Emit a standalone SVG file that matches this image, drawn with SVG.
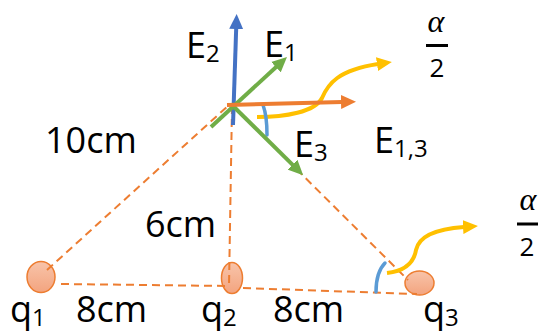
<svg xmlns="http://www.w3.org/2000/svg" width="538" height="332" viewBox="0 0 538 332">
<style>
.lbl{font-family:"Open Sans","Liberation Sans",sans-serif;font-size:36px;fill:#000}
.sub{font-size:24px}
.dash{fill:none;stroke:#ed7d31;stroke-width:2;stroke-dasharray:8 5}
.chg{fill:url(#chgGrad);stroke:#ed7d31;stroke-width:1.5}
.arr{fill:none;stroke-width:4}
.ang{fill:none;stroke:#5b9bd5;stroke-width:3.5;stroke-linecap:round}
.yel{fill:none;stroke:#ffc000;stroke-width:4}
.alpha{font-family:"Liberation Serif",serif;font-style:italic;font-size:32px;text-anchor:middle}
.two{font-family:"Open Sans","Liberation Sans",sans-serif;font-size:26px;text-anchor:middle}
</style>
<defs>
<linearGradient id="chgGrad" x1="0" y1="0" x2="0" y2="1">
<stop offset="0" stop-color="#f8c4aa"/>
<stop offset="1" stop-color="#f3a47f"/>
</linearGradient>
<marker id="mBlue" markerUnits="userSpaceOnUse" markerWidth="16" markerHeight="15" refX="1" refY="7" orient="auto" viewBox="0 0 16 14"><path d="M0,0 L15,7 L0,14 z" fill="#4472c4"/></marker>
<marker id="mGreen" markerUnits="userSpaceOnUse" markerWidth="16" markerHeight="15" refX="1" refY="7" orient="auto" viewBox="0 0 16 14"><path d="M0,0 L15,7 L0,14 z" fill="#70ad47"/></marker>
<marker id="mOrange" markerUnits="userSpaceOnUse" markerWidth="16" markerHeight="15" refX="1" refY="7" orient="auto" viewBox="0 0 16 14"><path d="M0,0 L15,7 L0,14 z" fill="#ed7d31"/></marker>
<marker id="mYellow" markerUnits="userSpaceOnUse" markerWidth="16" markerHeight="15" refX="1" refY="7" orient="auto" viewBox="0 0 16 14"><path d="M0,0 L15,7 L0,14 z" fill="#ffc000"/></marker>
</defs>
<rect width="538" height="332" fill="#fff"/>

<g id="q1"><ellipse class="chg" cx="41" cy="277" rx="14" ry="15.5"/></g>
<g id="q2"><ellipse class="chg" cx="232" cy="278" rx="10.5" ry="15.5"/></g>
<g id="q3"><ellipse class="chg" cx="419.5" cy="283" rx="14.5" ry="12"/></g>

<g id="connectors">
<line class="dash" x1="47" y1="270" x2="229" y2="105"/>
<line class="dash" x1="232" y1="106" x2="229" y2="286"/>
<line class="dash" x1="61" y1="284" x2="229" y2="286"/>
<line class="dash" x1="243" y1="288" x2="417" y2="294"/>
<line class="dash" x1="232" y1="105" x2="408" y2="280"/>
<path class="yel" d="M257,117 C285,117 315,112 322,98 C328,84 338,70 378,64" marker-end="url(#mYellow)"/>
<path class="yel" d="M387,273 C405,271 414,262 416,250 C419,236 435,229 464,227" marker-end="url(#mYellow)"/>
<path class="ang" d="M263,105 C266,113 267,123 267,135"/>
<path class="ang" d="M385,263 C379,269 376,279 376,292"/>
<line class="arr" stroke="#4472c4" x1="233" y1="125" x2="236.2" y2="28" marker-end="url(#mBlue)"/>
<line class="arr" stroke="#70ad47" x1="211" y1="127" x2="276.7" y2="66.5" marker-end="url(#mGreen)"/>
<line class="arr" stroke="#70ad47" x1="231" y1="104" x2="293.2" y2="165.3" marker-end="url(#mGreen)"/>
<line class="arr" stroke="#ed7d31" x1="227" y1="105" x2="342" y2="102" marker-end="url(#mOrange)"/>
</g>

<g id="labels">
<text class="lbl" x="186" y="58">E<tspan class="sub" x="206" y="62">2</tspan></text>
<text class="lbl" x="264" y="57">E<tspan class="sub" x="284" y="61">1</tspan></text>
<text class="lbl" x="294" y="157">E<tspan class="sub" x="314" y="161">3</tspan></text>
<text class="lbl" x="374" y="153">E<tspan class="sub" x="394" y="157">1,3</tspan></text>
<text class="lbl" x="45" y="153">10cm</text>
<text class="lbl" x="145" y="237">6cm</text>
<text class="lbl" x="10" y="322">q<tspan class="sub" x="32" y="326">1</tspan></text>
<text class="lbl" x="76" y="322">8cm</text>
<text class="lbl" x="201" y="322">q<tspan class="sub" x="223" y="326">2</tspan></text>
<text class="lbl" x="273" y="322">8cm</text>
<text class="lbl" x="423" y="322">q<tspan class="sub" x="445" y="326">3</tspan></text>
</g>

<g id="frac-top">
<text class="alpha" x="436" y="32">α</text>
<rect x="426" y="44" width="22" height="3" fill="#000"/>
<text class="two" x="437" y="77">2</text>
</g>
<g id="frac-right">
<text class="alpha" x="528" y="210">α</text>
<rect x="517" y="222.5" width="22" height="3" fill="#000"/>
<text class="two" x="527" y="256">2</text>
</g>
</svg>
